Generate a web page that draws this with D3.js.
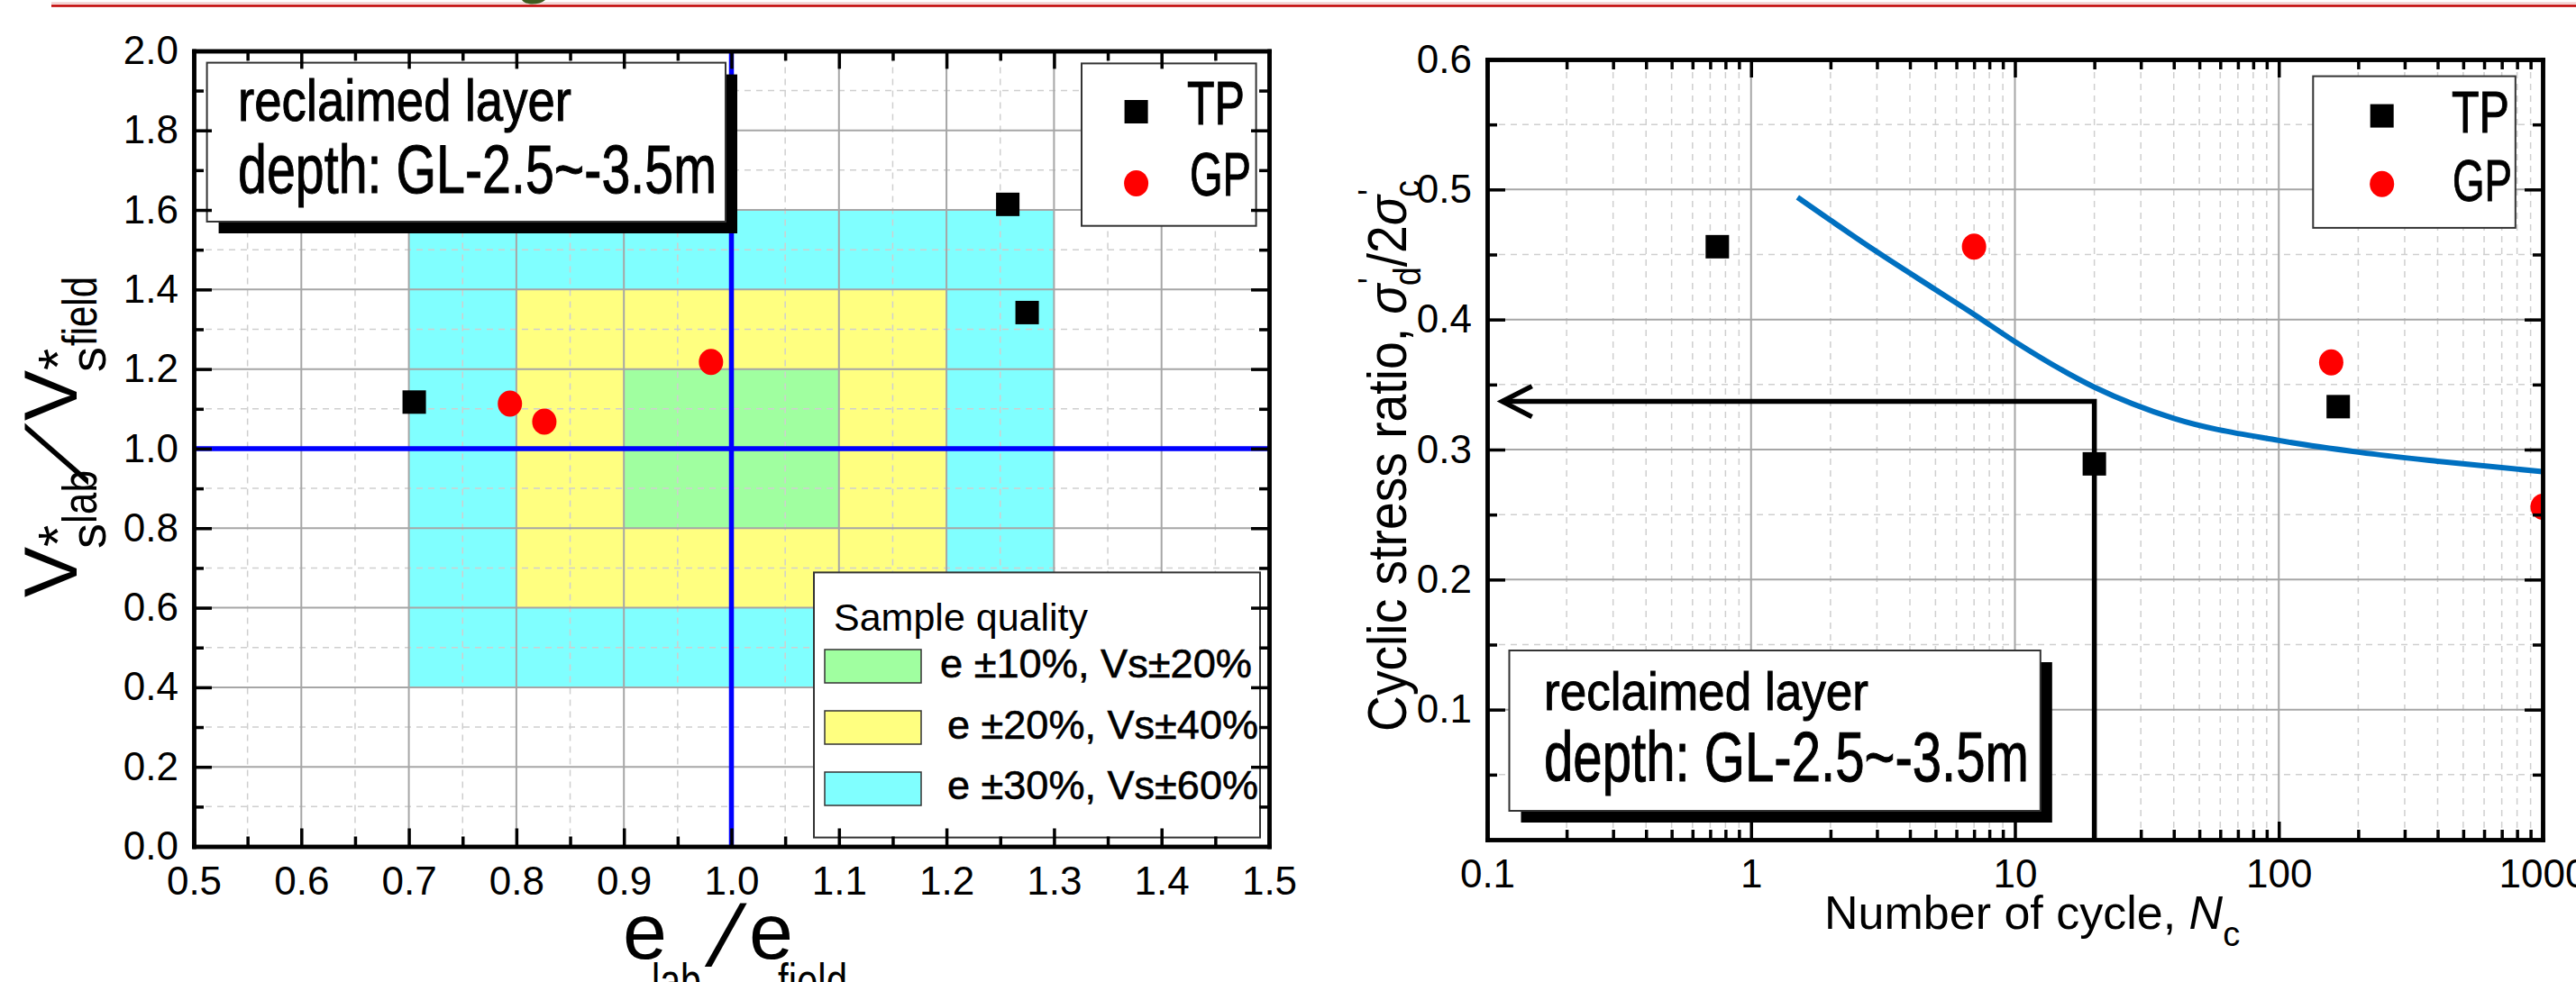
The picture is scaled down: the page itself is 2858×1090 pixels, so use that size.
<!DOCTYPE html>
<html>
<head>
<meta charset="utf-8">
<script src="https://cdnjs.cloudflare.com/ajax/libs/d3/7.8.5/d3.min.js"></script>
<style>
    body { margin: 0; background: #fff; }
    svg { display: block; font-family: "Liberation Sans", Arial, sans-serif; }
</style>
</head>
<body>
<div id="chart"></div>
<script>
// ---- left chart: sample quality (e ratio vs Vs* ratio) ----
var qualityXTicks = [0.5, 0.6, 0.7, 0.8, 0.9, 1.0, 1.1, 1.2, 1.3, 1.4, 1.5];
var qualityYTicks = [0.0, 0.2, 0.4, 0.6, 0.8, 1.0, 1.2, 1.4, 1.6, 1.8, 2.0];
var qualityTP = [[0.705, 1.117], [1.257, 1.614], [1.275, 1.342]];
var qualityGP = [[0.794, 1.113], [0.826, 1.068], [0.981, 1.218]];
var zoneNames = ["e \u00b110%, Vs\u00b120%", "e \u00b120%, Vs\u00b140%", "e \u00b130%, Vs\u00b160%"];
var zoneE = [0.1, 0.2, 0.3];
var zoneVs = [0.2, 0.4, 0.6];
var zoneColors = ["#a0ffa0", "#ffff80", "#80ffff"];
var refRatio = 1.0;

// ---- right chart: cyclic stress ratio vs number of cycles ----
var cycleTicks = [0.1, 1, 10, 100, 1000];
var ratioTicks = [0.1, 0.2, 0.3, 0.4, 0.5, 0.6];
var cyclicTP = [[0.745, 0.456], [20, 0.289], [168, 0.333]];
var cyclicGP = [[7, 0.456], [158, 0.367], [1000, 0.256]];
var strengthCurve = [[1.5, 0.494], [3, 0.452], [5, 0.423], [7, 0.404], [10, 0.383],
    [20, 0.348], [40, 0.324], [100, 0.307], [200, 0.298], [400, 0.291], [1000, 0.283]];
var designN = 20,
    designRatio = 0.337,
    arrowN = 0.114;

var seriesNames = ["TP", "GP"];
var layerText = ["reclaimed layer", "depth: GL-2.5~-3.5m"];

window.onload = function()
{
    main();
};

function main()
{
    var svg = d3.select("#chart").append("svg")
        .attr("width", 2858)
        .attr("height", 1090);

    svg.append("rect")
        .attr("width", 2858)
        .attr("height", 1090)
        .attr("fill", "#fff");

    _drawHeader(svg);
    _drawQualityChart(svg);
    _drawCyclicChart(svg);
}

// bits of the slide header that are cut off at the top
function _drawHeader(svg)
{
    svg.append("line")
        .attr("x1", 57).attr("x2", 2858)
        .attr("y1", 3.5).attr("y2", 3.5)
        .attr("stroke", "#f0c8c8")
        .attr("stroke-width", 2);
    svg.append("line")
        .attr("x1", 57).attr("x2", 2858)
        .attr("y1", 6.5).attr("y2", 6.5)
        .attr("stroke", "#c00000")
        .attr("stroke-width", 2.5);
    svg.append("path")
        .attr("d", "M579,0 C583,6 598,6 605,0 Z")
        .attr("fill", "#3d5c1f");
}

function _drawQualityChart(svg)
{
    var x = d3.scaleLinear().domain([0.5, 1.5]).range([215, 1408]),
        y = d3.scaleLinear().domain([0, 2]).range([939.5, 56.4]),
        g = svg.append("g"),
        xMinor = d3.range(0.55, 1.5, 0.1),
        yMinor = d3.range(0.1, 2, 0.2);

    // tolerance zones around 1.0, widest first
    d3.range(zoneE.length).reverse().forEach(function(i)
    {
        g.append("rect")
            .attr("x", x(refRatio - zoneE[i]))
            .attr("y", y(refRatio + zoneVs[i]))
            .attr("width", x(refRatio + zoneE[i]) - x(refRatio - zoneE[i]))
            .attr("height", y(refRatio - zoneVs[i]) - y(refRatio + zoneVs[i]))
            .attr("fill", zoneColors[i]);
    });

    _grid(g, x, y, xMinor, yMinor, true);
    _grid(g, x, y, qualityXTicks, qualityYTicks, false);

    // reference lines at ratio 1.0
    g.append("line")
        .attr("x1", x(refRatio)).attr("x2", x(refRatio))
        .attr("y1", y.range()[0]).attr("y2", y.range()[1])
        .attr("stroke", "#0000ff").attr("stroke-width", 5.5);
    g.append("line")
        .attr("x1", x.range()[0]).attr("x2", x.range()[1])
        .attr("y1", y(refRatio)).attr("y2", y(refRatio))
        .attr("stroke", "#0000ff").attr("stroke-width", 5.5);

    _markers(g, qualityTP, x, y, "square");
    _markers(g, qualityGP, x, y, "circle");

    _noteBox(g, 229.6, 69.6, 575.4, 176.4, [
        {x: 264, y: 134, size: 64, len: 370},
        {x: 264, y: 214, size: 76, len: 531}
    ]);

    _seriesLegend(g, 1200, 70.4, 193.6, 180.3, 60.6, [
        {y: 124, ty: 137.5, tx: 117, size: 68, len: 64},
        {y: 203.6, ty: 217, tx: 120, size: 68, len: 68}
    ]);

    // sample quality legend
    var lg = g.append("g");
    lg.append("rect")
        .attr("x", 903).attr("y", 635.4)
        .attr("width", 495).attr("height", 294.2)
        .attr("fill", "#fff")
        .attr("stroke", "#333")
        .attr("stroke-width", 2);
    lg.append("text")
        .attr("x", 925).attr("y", 699.5)
        .attr("font-size", 43)
        .text("Sample quality");
    zoneNames.forEach(function(name, i)
    {
        lg.append("rect")
            .attr("x", 915).attr("y", 721 + i * 68)
            .attr("width", 107).attr("height", 37)
            .attr("fill", zoneColors[i])
            .attr("stroke", "#333")
            .attr("stroke-width", 1.5);
        lg.append("text")
            .attr("x", i == 0 ? 1043 : 1051)
            .attr("y", 752 + i * 67.7)
            .attr("font-size", 45)
            .attr("textLength", i == 0 ? 346 : 345)
            .attr("lengthAdjust", "spacingAndGlyphs")
            .attr("stroke", "#000")
            .attr("stroke-width", 0.6)
            .text(name);
    });

    _drawFrame(g, x, y, {
        xMajor: qualityXTicks, xMinor: xMinor, xFormat: d3.format(".1f"),
        yMajor: qualityYTicks, yMinor: yMinor, yFormat: d3.format(".1f")
    });

    // y title: V*s lab / V*s field
    var yt = g.append("g").attr("transform", "translate(85,663) rotate(-90)");
    _txt(yt, "V", 0, 0, 84);
    _txt(yt, "*", 56, 0, 62);
    _txt(yt, "s", 54, 32, 56);
    _txt(yt, "lab", 82, 22, 53, 59);
    yt.append("g").attr("transform", "translate(125,12) skewX(-31)")
        .append("text").attr("font-size", 96).text("/");
    _txt(yt, "V", 196, 0, 84);
    _txt(yt, "*", 252, 0, 62);
    _txt(yt, "s", 250, 32, 56);
    _txt(yt, "field", 279, 22, 53, 77);

    // x title: e lab / e field
    var xt = g.append("g");
    _txt(xt, "e", 691, 1064, 88);
    _txt(xt, "lab", 723, 1107, 53, 55);
    xt.append("g").attr("transform", "translate(782,1072) skewX(-16)")
        .append("text").attr("font-size", 96).text("/");
    _txt(xt, "e", 831, 1064, 88);
    _txt(xt, "field", 863, 1107, 53, 77);
}

function _drawCyclicChart(svg)
{
    var x = d3.scaleLog().domain([0.1, 1000]).range([1650, 2821]),
        y = d3.scaleLinear().domain([0, 0.6]).range([932, 66]),
        g = svg.append("g"),
        xMinor = [],
        yMinor = d3.range(0.05, 0.6, 0.1);

    [0.1, 1, 10, 100].forEach(function(dec)
    {
        d3.range(2, 10).forEach(function(k) { xMinor.push(dec * k); });
    });

    g.append("clipPath").attr("id", "plotClip")
        .append("rect")
        .attr("x", 1650).attr("y", 66)
        .attr("width", 1171).attr("height", 866);

    _grid(g, x, y, xMinor, yMinor, true);
    _grid(g, x, y, cycleTicks, ratioTicks, false);

    var plot = g.append("g").attr("clip-path", "url(#plotClip)");

    // strength curve
    plot.append("path")
        .datum(strengthCurve)
        .attr("fill", "none")
        .attr("stroke", "#0070c0")
        .attr("stroke-width", 6)
        .attr("d", d3.line()
            .x(function(d) { return x(d[0]); })
            .y(function(d) { return y(d[1]); })
            .curve(d3.curveMonotoneX));

    // read-off line at N = 20 with arrow to the ratio axis
    plot.append("path")
        .attr("d", "M" + x(arrowN) + "," + y(designRatio) +
            "H" + x(designN) + "V" + (y(0) + 4))
        .attr("fill", "none")
        .attr("stroke", "#000")
        .attr("stroke-width", 5.5);
    plot.append("path")
        .attr("d", "M" + (x(arrowN) + 33) + "," + (y(designRatio) - 17) +
            "L" + x(arrowN) + "," + y(designRatio) +
            "L" + (x(arrowN) + 33) + "," + (y(designRatio) + 17))
        .attr("fill", "none")
        .attr("stroke", "#000")
        .attr("stroke-width", 5.5);

    _markers(plot, cyclicTP, x, y, "square");
    _markers(plot, cyclicGP, x, y, "circle");

    _noteBox(g, 1674.5, 722, 589.3, 178, [
        {x: 1713, y: 788, size: 59, len: 360},
        {x: 1713, y: 867, size: 77, len: 538}
    ]);

    _seriesLegend(g, 2566.3, 84.6, 224.5, 168.3, 76.4, [
        {y: 128.6, ty: 147, tx: 153.7, size: 65, len: 64},
        {y: 204.3, ty: 223, tx: 154.7, size: 65, len: 66}
    ]);

    _drawFrame(g, x, y, {
        xMajor: cycleTicks, xMinor: xMinor, xFormat: function(d) { return String(d); },
        yMajor: ratioTicks, yMinor: yMinor, yFormat: d3.format(".1f")
    });

    // y title, condensed like the source
    var t = g.append("text")
        .attr("transform", "translate(1560,812) rotate(-90)")
        .attr("font-size", 62)
        .attr("textLength", 612)
        .attr("lengthAdjust", "spacingAndGlyphs");
    t.append("tspan").text("Cyclic stress ratio, ");
    t.append("tspan").attr("font-style", "italic").text("\u03c3");
    t.append("tspan").attr("font-size", 42).attr("dy", -24).text("'");
    t.append("tspan").attr("font-size", 42).attr("dx", -10).attr("dy", 40).text("d");
    t.append("tspan").attr("dy", -16).text("/2");
    t.append("tspan").attr("font-style", "italic").text("\u03c3");
    t.append("tspan").attr("font-size", 42).attr("dy", -24).text("'");
    t.append("tspan").attr("font-size", 42).attr("dx", -10).attr("dy", 40).text("c");

    // x title
    var xt = g.append("text")
        .attr("x", 2024)
        .attr("y", 1031)
        .attr("font-size", 52);
    xt.append("tspan").text("Number of cycle, ");
    xt.append("tspan").attr("font-style", "italic").text("N");
    xt.append("tspan").attr("font-size", 38).attr("dy", 19).text("c");
}

// grid lines, dashed for minor ones
function _grid(g, x, y, xs, ys, minor)
{
    var gg = g.append("g")
        .attr("stroke", minor ? "#cfcfcf" : "#a6a6a6")
        .attr("stroke-width", minor ? 1.5 : 2)
        .attr("stroke-dasharray", minor ? "7,6" : null);

    gg.selectAll(".gx")
        .data(xs)
        .enter().append("line")
        .attr("x1", function(d) { return x(d); })
        .attr("x2", function(d) { return x(d); })
        .attr("y1", y.range()[0])
        .attr("y2", y.range()[1]);

    gg.selectAll(".gy")
        .data(ys)
        .enter().append("line")
        .attr("x1", x.range()[0])
        .attr("x2", x.range()[1])
        .attr("y1", function(d) { return y(d); })
        .attr("y2", function(d) { return y(d); });
}

function _markers(g, data, x, y, shape)
{
    if (shape == "square")
    {
        g.selectAll(null)
            .data(data)
            .enter().append("rect")
            .attr("x", function(d) { return x(d[0]) - 13; })
            .attr("y", function(d) { return y(d[1]) - 13; })
            .attr("width", 26)
            .attr("height", 26)
            .attr("fill", "#000");
    }
    else
    {
        g.selectAll(null)
            .data(data)
            .enter().append("ellipse")
            .attr("cx", function(d) { return x(d[0]); })
            .attr("cy", function(d) { return y(d[1]); })
            .attr("rx", 13.5)
            .attr("ry", 14.5)
            .attr("fill", "#ff0000");
    }
}

// text box with the heavy drop shadow
function _noteBox(g, bx, by, bw, bh, lines)
{
    g.append("rect")
        .attr("x", bx + 13).attr("y", by + 13)
        .attr("width", bw).attr("height", bh)
        .attr("fill", "#000");
    g.append("rect")
        .attr("x", bx).attr("y", by)
        .attr("width", bw).attr("height", bh)
        .attr("fill", "#fff")
        .attr("stroke", "#333")
        .attr("stroke-width", 2);
    lines.forEach(function(l, i)
    {
        _txt(g, layerText[i], l.x, l.y, l.size, l.len)
            .attr("stroke", "#000")
            .attr("stroke-width", 1);
    });
}

function _seriesLegend(g, bx, by, bw, bh, mx, rows)
{
    g.append("rect")
        .attr("x", bx).attr("y", by)
        .attr("width", bw).attr("height", bh)
        .attr("fill", "#fff")
        .attr("stroke", "#333")
        .attr("stroke-width", 2);
    g.append("rect")
        .attr("x", bx + mx - 13).attr("y", rows[0].y - 13)
        .attr("width", 26).attr("height", 26)
        .attr("fill", "#000");
    g.append("ellipse")
        .attr("cx", bx + mx).attr("cy", rows[1].y)
        .attr("rx", 13.5).attr("ry", 14.5)
        .attr("fill", "#ff0000");
    rows.forEach(function(r, i)
    {
        _txt(g, seriesNames[i], bx + r.tx, r.ty, r.size, r.len)
            .attr("stroke", "#000")
            .attr("stroke-width", 1);
    });
}

function _txt(g, str, x, y, size, len)
{
    var t = g.append("text")
        .attr("x", x)
        .attr("y", y)
        .attr("font-size", size)
        .attr("fill", "#000")
        .text(str);
    if (len)
    {
        t.attr("textLength", len).attr("lengthAdjust", "spacingAndGlyphs");
    }
    return t;
}

// box axes with inward ticks on all four sides
function _drawFrame(g, x, y, t)
{
    var sides = [
        {axis: d3.axisBottom, pos: "translate(0," + y.range()[0] + ")", scale: x, major: t.xMajor, minor: t.xMinor, fmt: t.xFormat, pad: 22},
        {axis: d3.axisTop, pos: "translate(0," + y.range()[1] + ")", scale: x, major: t.xMajor, minor: t.xMinor, fmt: "", pad: 0},
        {axis: d3.axisLeft, pos: "translate(" + x.range()[0] + ",0)", scale: y, major: t.yMajor, minor: t.yMinor, fmt: t.yFormat, pad: 17},
        {axis: d3.axisRight, pos: "translate(" + x.range()[1] + ",0)", scale: y, major: t.yMajor, minor: t.yMinor, fmt: "", pad: 0}
    ];

    sides.forEach(function(s)
    {
        g.append("g")
            .attr("transform", s.pos)
            .call(s.axis(s.scale).tickValues(s.minor).tickFormat("").tickSize(-11).tickSizeOuter(0))
            .call(_styleAxis);
        g.append("g")
            .attr("transform", s.pos)
            .call(s.axis(s.scale).tickValues(s.major).tickFormat(s.fmt).tickSize(-20).tickSizeOuter(0).tickPadding(s.pad))
            .call(_styleAxis);
    });
}

function _styleAxis(sel)
{
    sel.attr("font-family", null).attr("font-size", null);
    sel.select(".domain")
        .attr("stroke", "#000")
        .attr("stroke-width", 4.5)
        .attr("stroke-linecap", "square");
    sel.selectAll(".tick line")
        .attr("stroke", "#000")
        .attr("stroke-width", 3.5);
    sel.selectAll(".tick text")
        .attr("font-size", 44)
        .attr("fill", "#000");
}
</script>
</body>
</html>
